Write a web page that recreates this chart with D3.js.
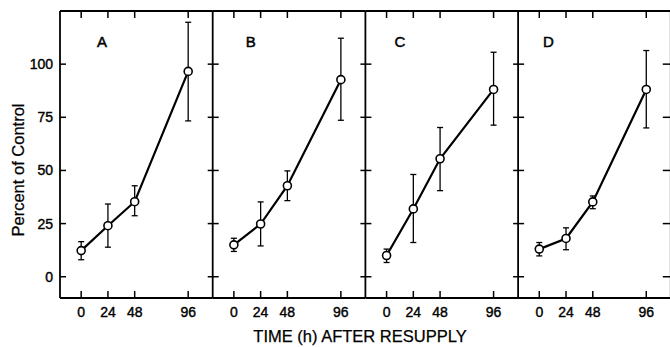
<!DOCTYPE html>
<html><head><meta charset="utf-8">
<script src="https://cdn.jsdelivr.net/npm/d3@7"></script>
<style>
html,body{margin:0;padding:0;background:#fff;}
svg{display:block;}
text{font-family:"Liberation Sans",Arial,Helvetica,sans-serif;fill:#000;}
</style></head>
<body>
<script>
// ---- data ----
const panels = ["A", "B", "C", "D"];
const hours = [0, 24, 48, 96];
const meanA = [12.3, 24, 35.3, 96.6];
const lowA  = [8, 13.9, 28.7, 73.3];
const highA = [16.5, 34.2, 42.8, 119.7];
const meanB = [15, 24.8, 42.8, 92.7];
const lowB  = [11.9, 14.5, 35.8, 73.6];
const highB = [18.1, 35.2, 49.8, 112.2];
const meanC = [10, 31.9, 55.5, 88.1];
const lowC  = [6.7, 16.1, 40.5, 71.3];
const highC = [13, 48.1, 70.2, 105.6];
const meanD = [13, 18, 35.2, 88.1];
const lowD  = [9.8, 12.7, 32, 70];
const highD = [16.1, 23, 38, 106.4];
const yTicks = [0, 25, 50, 75, 100];
const xTicks = [0, 24, 48, 96];
const yLabel = "Percent of Control";
const xLabel = "TIME (h) AFTER RESUPPLY";

const series = [
  {name: panels[0], mean: meanA, low: lowA, high: highA},
  {name: panels[1], mean: meanB, low: lowB, high: highB},
  {name: panels[2], mean: meanC, low: lowC, high: highC},
  {name: panels[3], mean: meanD, low: lowD, high: highD}
];

// ---- layout ----
const W = 670, H = 347;
const left0 = 60, panelW = 152.7, topY = 11, bottomY = 298;

const svg = d3.select("body").append("svg").attr("width", W).attr("height", H);

const y = d3.scaleLinear().domain([-10, 125]).range([bottomY, topY]);

series.forEach((s, i) => {
  const pl = left0 + i * panelW, pr = pl + panelW;
  const x = d3.scaleLinear().domain([-19, 118]).range([pl, pr]);
  const g = svg.append("g");

  // frame
  g.append("line").attr("x1", pl).attr("x2", pr).attr("y1", topY).attr("y2", topY)
    .attr("stroke", "#000").attr("stroke-width", 1.8);
  g.append("line").attr("x1", pl).attr("x2", pr).attr("y1", bottomY).attr("y2", bottomY)
    .attr("stroke", "#000").attr("stroke-width", 1.8);
  g.append("line").attr("x1", pl).attr("x2", pl).attr("y1", topY).attr("y2", bottomY)
    .attr("stroke", "#000").attr("stroke-width", 1.8);
  if (i === series.length - 1) {
    g.append("line").attr("x1", pr).attr("x2", pr).attr("y1", topY).attr("y2", bottomY)
      .attr("stroke", "#000").attr("stroke-width", 1.8);
  }

  // x ticks top and bottom (inward)
  g.selectAll(".xtb").data(xTicks).enter().append("line")
    .attr("x1", d => x(d)).attr("x2", d => x(d))
    .attr("y1", bottomY).attr("y2", bottomY - 7)
    .attr("stroke", "#000").attr("stroke-width", 1.5);
  g.selectAll(".xtt").data(xTicks).enter().append("line")
    .attr("x1", d => x(d)).attr("x2", d => x(d))
    .attr("y1", topY).attr("y2", topY + 7)
    .attr("stroke", "#000").attr("stroke-width", 1.5);
  g.selectAll(".xtl").data(xTicks).enter().append("text")
    .attr("x", d => x(d)).attr("y", 317)
    .attr("text-anchor", "middle").attr("font-size", 14)
    .attr("stroke", "#000").attr("stroke-width", 0.4)
    .text(d => d);

  // y ticks
  g.selectAll(".ytl").data(yTicks).enter().append("line")
    .attr("x1", i === 0 ? pl : pl - 5).attr("x2", pl + 6)
    .attr("y1", d => y(d)).attr("y2", d => y(d))
    .attr("stroke", "#000").attr("stroke-width", 1.5);
  if (i === series.length - 1) {
    g.selectAll(".ytr").data(yTicks).enter().append("line")
      .attr("x1", pr - 8).attr("x2", pr)
      .attr("y1", d => y(d)).attr("y2", d => y(d))
      .attr("stroke", "#000").attr("stroke-width", 1.5);
  }
  if (i === 0) {
    g.selectAll(".ylab").data(yTicks).enter().append("text")
      .attr("x", pl - 7).attr("y", d => y(d) + 5)
      .attr("text-anchor", "end").attr("font-size", 14)
      .attr("stroke", "#000").attr("stroke-width", 0.4)
      .text(d => d);
  }

  // panel letter
  g.append("text").attr("x", pl + 37 - 4 * i).attr("y", 47)
    .attr("font-size", 15).attr("stroke", "#000").attr("stroke-width", 0.5)
    .text(s.name);

  // error bars
  hours.forEach((h, k) => {
    const cx = x(h);
    g.append("line").attr("x1", cx).attr("x2", cx)
      .attr("y1", y(s.low[k])).attr("y2", y(s.high[k]))
      .attr("stroke", "#000").attr("stroke-width", 1.3);
    [s.low[k], s.high[k]].forEach(v => {
      g.append("line").attr("x1", cx - 3).attr("x2", cx + 3)
        .attr("y1", y(v)).attr("y2", y(v))
        .attr("stroke", "#000").attr("stroke-width", 1.3);
    });
  });

  // line
  const line = d3.line().x((d, k) => x(hours[k])).y(d => y(d));
  g.append("path").datum(s.mean).attr("d", line)
    .attr("fill", "none").attr("stroke", "#000").attr("stroke-width", 2.2);

  // points
  g.selectAll(".pt").data(s.mean).enter().append("circle")
    .attr("cx", (d, k) => x(hours[k])).attr("cy", d => y(d)).attr("r", 4)
    .attr("fill", "#fff").attr("stroke", "#000").attr("stroke-width", 1.6);
});

// axis titles
svg.append("text")
  .attr("transform", `translate(24,170) rotate(-90)`)
  .attr("text-anchor", "middle").attr("font-size", 16.5)
  .attr("stroke", "#000").attr("stroke-width", 0.25)
  .text(yLabel);

svg.append("text").attr("x", 360).attr("y", 342)
  .attr("text-anchor", "middle").attr("font-size", 16.5)
  .attr("stroke", "#000").attr("stroke-width", 0.25)
  .text(xLabel);
</script>
</body></html>
